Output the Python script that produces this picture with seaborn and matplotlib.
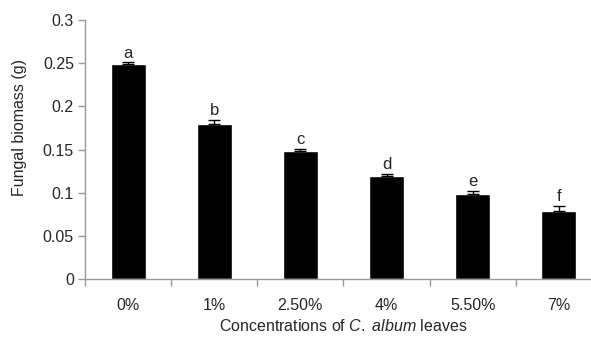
import matplotlib.pyplot as plt
import seaborn as sns
import numpy as np

plt.switch_backend('Agg')

# Данные
concentrations = ['0%', '1%', '2.50%', '4%', '5.50%', '7%']
biomass = [0.249, 0.180, 0.148, 0.119, 0.099, 0.079]
errors = [0.002, 0.004, 0.003, 0.003, 0.003, 0.006]
letters = ['a', 'b', 'c', 'd', 'e', 'f']

sns.set_style('white')
plt.rcParams['font.family'] = ['Liberation Sans', 'DejaVu Sans']
plt.rcParams['mathtext.fontset'] = 'custom'
plt.rcParams['mathtext.rm'] = 'Liberation Sans'
plt.rcParams['mathtext.it'] = 'Liberation Sans:italic'

fig = plt.figure(figsize=(5.91, 3.37), dpi=100)
# ось уходит за правый край картинки, как в оригинале
ax = fig.add_axes([85 / 591, 58 / 337, 517 / 591, 259 / 337])

sns.barplot(x=concentrations, y=biomass, color='black', width=0.405,
            saturation=1, ax=ax)

x = np.arange(len(concentrations))
ax.errorbar(x, biomass, yerr=[np.zeros(len(errors)), errors], fmt='none',
            ecolor='black', elinewidth=1, capsize=4, capthick=1)

for xi, b, e, t in zip(x, biomass, errors, letters):
    ax.text(xi, b + e + 0.002, t, ha='center', va='bottom', fontsize=12)

ax.set_xlim(-0.5, len(concentrations) - 0.5)
ax.set_ylim(0, 0.3)
ax.set_yticks(np.arange(0, 0.31, 0.05))
ax.set_yticklabels(['0', '0.05', '0.1', '0.15', '0.2', '0.25', '0.3'])

# метки категорий по центру, засечки — между категориями
ax.set_xticks(np.arange(-0.5, len(concentrations), 1.0))
ax.set_xticklabels([])
ax.set_xticks(x, minor=True)
ax.set_xticklabels(concentrations, minor=True)
ax.tick_params(axis='x', which='major', length=5, width=1, color='#999999',
               direction='out', bottom=True)
ax.tick_params(axis='x', which='minor', length=0, pad=14, labelsize=11.5)
ax.tick_params(axis='y', length=5, width=1, color='#999999', direction='out',
               left=True, labelsize=11.5, pad=3)

for side in ['top', 'right']:
    ax.spines[side].set_visible(False)
for side in ['left', 'bottom']:
    ax.spines[side].set_color('#999999')
    ax.spines[side].set_linewidth(1)

ax.set_ylabel('Fungal biomass (g)', fontsize=11.5)
ax.yaxis.set_label_coords((27 - 85) / 517, (279 - 128) / 259)
ax.set_xlabel('Concentrations of $\\it{C.\\ album}$ leaves', fontsize=11.5)
ax.xaxis.set_label_coords((343 - 85) / 517, -39 / 259)

fig.savefig('out.png', dpi=100)
plt.close()
